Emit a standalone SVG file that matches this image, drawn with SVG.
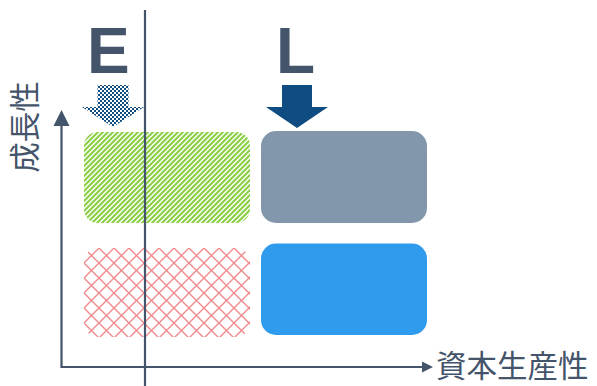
<svg xmlns="http://www.w3.org/2000/svg" width="597" height="386" viewBox="0 0 597 386">
  <style>
    .ink { fill: #44546a; }
    .axis { stroke: #44546a; stroke-width: 2.2; fill: none; }
    .letter { font-family: "Liberation Sans", Arial, sans-serif; font-weight: bold; font-size: 64px; fill: #44546a; }
    .label { font-family: "Noto Sans CJK JP", "Noto Sans CJK SC", sans-serif; font-size: 30.5px; fill: #44546a; }
  </style>
  <defs>
    <!-- upward diagonal stripes -->
    <pattern id="stripes" width="5" height="5" patternUnits="userSpaceOnUse">
      <path d="M-1.25,1.25 L1.25,-1.25 M0,5 L5,0 M3.75,6.25 L6.25,3.75" stroke="#8cd046" stroke-width="2.2"/>
    </pattern>
    <!-- diagonal lattice -->
    <pattern id="lattice" x="84" y="248" width="15" height="15" patternUnits="userSpaceOnUse">
      <path d="M0,0 L15,15 M15,0 L0,15" stroke="#f08a8d" stroke-width="1.4"/>
    </pattern>
    <!-- fine checkerboard -->
    <pattern id="checker" width="4" height="4" patternUnits="userSpaceOnUse">
      <rect width="4" height="4" fill="#ffffff"/>
      <rect width="2" height="2" fill="#0f4c81"/>
      <rect x="2" y="2" width="2" height="2" fill="#0f4c81"/>
    </pattern>
  </defs>

  <rect width="597" height="386" fill="#ffffff"/>

  <!-- quadrant boxes -->
  <g id="box-top-left">
    <rect x="84" y="132" width="166" height="91" rx="14" fill="url(#stripes)"/>
  </g>
  <g id="box-bottom-left">
    <rect x="84" y="248" width="166" height="89" rx="14" fill="url(#lattice)"/>
  </g>
  <g id="box-top-right">
    <rect x="261" y="131" width="166" height="92" rx="15" fill="#8397ac"/>
  </g>
  <g id="box-bottom-right">
    <rect x="261" y="243.5" width="166" height="91.5" rx="15" fill="#2f9bec"/>
  </g>

  <!-- markers E and L -->
  <g id="marker-e">
    <text class="letter" x="87" y="73">E</text>
    <polygon points="97.5,85 128.5,85 128.5,107 144,107 113,127 82,107 97.5,107" fill="url(#checker)"/>
  </g>
  <g id="marker-l">
    <text class="letter" x="276" y="73">L</text>
    <polygon points="282,85 312,85 312,107 328,107 297,128 266,107 282,107" fill="#0f4c81"/>
  </g>

  <!-- axis titles -->
  <g id="label-y">
    <text class="label" text-anchor="middle" transform="translate(36,127) rotate(-90)">成長性</text>
  </g>
  <g id="label-x">
    <text class="label" x="436" y="377">資本生産性</text>
  </g>

  <!-- axes and divider -->
  <g id="connectors">
    <path class="axis" d="M61.5,124 L61.5,367 L424,367"/>
    <polygon class="ink" points="61.5,110 69.5,126 53.5,126"/>
    <polygon class="ink" points="433,367 422,361.5 422,372.5"/>
    <line class="axis" x1="145" y1="10" x2="145" y2="386"/>
  </g>
</svg>
